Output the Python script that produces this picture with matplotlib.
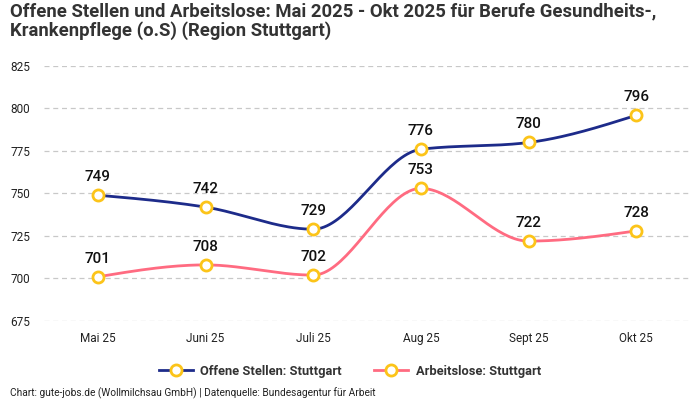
import numpy as np
import matplotlib.pyplot as plt
from matplotlib.lines import Line2D

monate = ["Mai 25", "Juni 25", "Juli 25", "Aug 25", "Sept 25", "Okt 25"]
offene_stellen = [749, 742, 729, 776, 780, 796]
arbeitslose = [701, 708, 702, 753, 722, 728]
y_ticks = [675, 700, 725, 750, 775, 800, 825]

titel = "Offene Stellen und Arbeitslose: Mai 2025 - Okt 2025 für Berufe Gesundheits-,\nKrankenpflege (o.S) (Region Stuttgart)"
quelle = "Chart: gute-jobs.de (Wollmilchsau GmbH) | Datenquelle: Bundesagentur für Arbeit"

plt.rcParams['font.family'] = ['Roboto', 'DejaVu Sans']

BLAU = '#1d2b8a'
ROSA = '#ff6b81'
GELB = '#fcc419'


def monotone(x, y, n=40):
    # monotone kubische Interpolation (wie d3 curveMonotoneX)
    x = np.asarray(x, float)
    y = np.asarray(y, float)
    h = np.diff(x)
    s = np.diff(y) / h
    m = np.zeros_like(y)
    for i in range(1, len(y) - 1):
        if s[i - 1] * s[i] <= 0:
            m[i] = 0
        else:
            p = (s[i - 1] * h[i] + s[i] * h[i - 1]) / (h[i - 1] + h[i])
            m[i] = np.sign(s[i - 1]) * min(abs(s[i - 1]), abs(s[i]), 0.5 * abs(p)) * 2
    m[0] = (3 * s[0] - m[1]) / 2
    m[-1] = (3 * s[-1] - m[-2]) / 2
    xs, ys = [], []
    for i in range(len(x) - 1):
        t = np.linspace(0, 1, n)
        h00 = 2 * t**3 - 3 * t**2 + 1
        h10 = t**3 - 2 * t**2 + t
        h01 = -2 * t**3 + 3 * t**2
        h11 = t**3 - t**2
        xs.extend(x[i] + t * h[i])
        ys.extend(h00 * y[i] + h10 * h[i] * m[i] + h01 * y[i + 1] + h11 * h[i] * m[i + 1])
    return np.array(xs), np.array(ys)


fig = plt.figure(figsize=(7, 4), dpi=100)
ax = fig.add_axes([44 / 700, 1 - 321 / 400, 646 / 700, 255 / 400])

x = np.arange(len(monate))
for werte, farbe in [(offene_stellen, BLAU), (arbeitslose, ROSA)]:
    xs, ys = monotone(x, werte)
    ax.plot(xs, ys, color=farbe, lw=2, zorder=3)
    ax.plot(x, werte, 'o', ms=8, mfc='white', mec=GELB, mew=2, zorder=4)
    for xi, v in zip(x, werte):
        ax.annotate(str(v), (xi, v), xytext=(0, 8), textcoords='offset points',
                    ha='center', va='bottom', fontsize=11, color='#111111', fontweight='medium')

ax.set_xlim(-0.5, len(monate) - 0.5)
ax.set_ylim(675, 825)
ax.set_xticks(x)
ax.set_xticklabels(monate)
ax.set_yticks(y_ticks)
ax.tick_params(axis='both', length=0, labelsize=8.5, colors='#222222')
ax.tick_params(axis='x', pad=8)
ax.tick_params(axis='y', pad=24)
for lbl in ax.get_yticklabels():
    lbl.set_horizontalalignment('left')
ax.grid(axis='y', color='#c8c8c8', ls=(0, (4, 3)), lw=0.9)
ax.set_axisbelow(True)
for sp in ax.spines.values():
    sp.set_visible(False)

fig.text(10 / 700, 1 - 2 / 400, titel, ha='left', va='top', fontsize=13.3, fontweight='bold',
         color='#333333', linespacing=1.1)

handles = [
    Line2D([0], [0], color=BLAU, lw=2, marker='o', ms=8, mfc='white', mec=GELB, mew=2),
    Line2D([0], [0], color=ROSA, lw=2, marker='o', ms=8, mfc='white', mec=GELB, mew=2),
]
leg = fig.legend(handles, ["Offene Stellen: Stuttgart", "Arbeitslose: Stuttgart"],
                 loc='center', bbox_to_anchor=(0.5, 1 - 371 / 400), ncol=2, frameon=False,
                 prop={'weight': 'bold', 'size': 9.3}, handlelength=2.6, columnspacing=2.5,
                 handletextpad=0.6)
for t in leg.get_texts():
    t.set_color('#333333')

fig.text(10 / 700, 1 - 393 / 400, quelle, ha='left', va='center', fontsize=7.3, color='#222222')

fig.savefig('out.png', dpi=100)
